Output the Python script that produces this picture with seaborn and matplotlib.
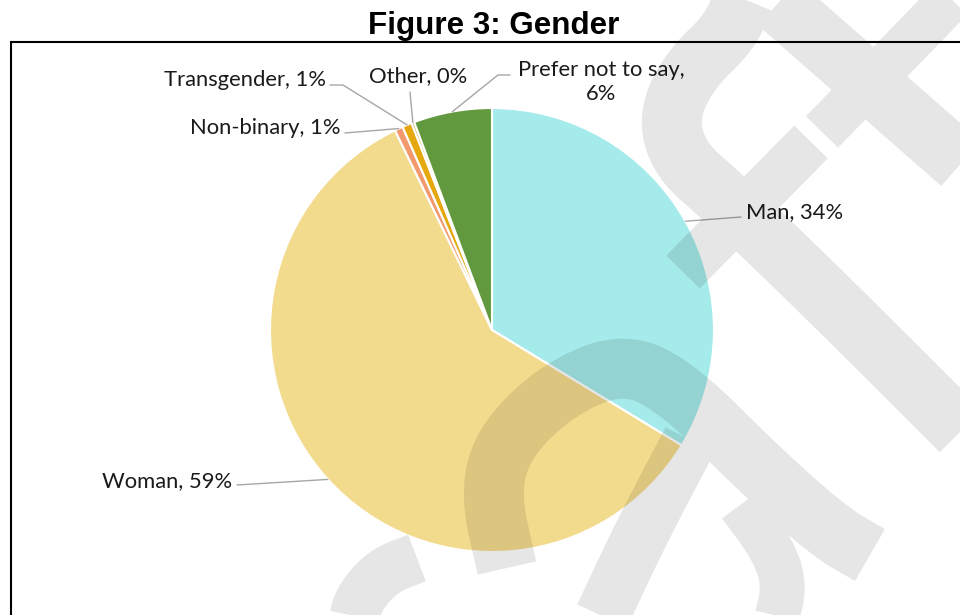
import numpy as np
import matplotlib
matplotlib.use("Agg")
import matplotlib.pyplot as plt
import seaborn as sns
from matplotlib.patches import Rectangle

# 데이터
categories = ['Man', 'Woman', 'Non-binary', 'Transgender', 'Other', 'Prefer not to say']
shares = [33.7, 59.1, 0.6, 0.7, 0.2, 5.7]
colors = ['#A6EBEB', '#F3DB8D', '#F29A6E', '#E5A90F', '#C9A227', '#62993E']
title = 'Figure 3: Gender'

sns.set_theme(style="white")
plt.rcParams['font.family'] = ['Lato', 'DejaVu Sans']

W, H = 960, 615
CX, CY, R = 492, 330, 222          # 픽셀 좌표 (y 아래 방향)


def P(x, y):
    # 픽셀(y 아래) -> 데이터(y 위)
    return x, H - y


def smooth(pts, n=3):
    # Chaikin 방식으로 꺾인 선을 부드럽게
    pts = np.asarray(pts, float)
    for _ in range(n):
        q = 0.75 * pts[:-1] + 0.25 * pts[1:]
        r = 0.25 * pts[:-1] + 0.75 * pts[1:]
        mid = np.empty((2 * len(q), 2))
        mid[0::2], mid[1::2] = q, r
        pts = np.vstack([pts[:1], mid, pts[-1:]])
    return pts


fig = plt.figure(figsize=(W / 100, H / 100), dpi=100)
ax = fig.add_axes([0, 0, 1, 1])

wedges, _ = ax.pie(shares, colors=colors, startangle=90, counterclock=False,
                   center=P(CX, CY), radius=R,
                   wedgeprops=dict(edgecolor='white', linewidth=1.5))

# 라벨 위치 (픽셀), 정렬, 꺾은 지시선 점
label_layout = {
    'Man':               dict(xy=(746, 212), ha='left',   path=[(741, 217)]),
    'Woman':             dict(xy=(232, 481), ha='right',  path=[(237, 485)]),
    'Non-binary':        dict(xy=(341, 128), ha='right',  path=[(345, 133)]),
    'Transgender':       dict(xy=(326, 80),  ha='right',  path=[(343, 85), (330, 85)]),
    'Other':             dict(xy=(418, 76),  ha='center', path=[(410, 92)]),
    'Prefer not to say': dict(xy=(601, 82),  ha='center', path=[(498, 75), (510, 75)]),
}

for w, name, val in zip(wedges, categories, shares):
    lay = label_layout[name]
    mid = np.deg2rad((w.theta1 + w.theta2) / 2)
    x0, y0 = w.center[0] + R * np.cos(mid), w.center[1] + R * np.sin(mid)
    pts = [(x0, y0)] + [P(*p) for p in lay['path']]
    ax.plot([p[0] for p in pts], [p[1] for p in pts], color='#A6A6A6', lw=1.0, zorder=3)
    if name == 'Prefer not to say':
        txt = f"{name},\n{round(val):.0f}%"
    else:
        txt = f"{name}, {round(val):.0f}%"
    ax.text(*P(*lay['xy']), txt, ha=lay['ha'], va='center', fontsize=15.8,
            color='#1A1A1A', linespacing=1.2, zorder=4)

# 차트 테두리
ax.add_patch(Rectangle(P(11, 640), 1000, 640 - 42, fill=False, edgecolor='black',
                       lw=1.5, zorder=2))

# 워터마크 (별도 캔버스에 그려서 마스크로 사용)
strokes = [
    ([(745, -5), (730, 32), (690, 70), (668, 116), (680, 160), (723, 197), (830, 300), (975, 445)], 60),
    ([(778, 3), (965, 167)], 60),
    ([(955, -5), (822, 132)], 45),
    ([(683, 272), (811, 142)], 47),
    ([(507, 568), (490, 493), (505, 440), (560, 388), (625, 362), (680, 390), (760, 470), (830, 532), (870, 555)], 60),
    ([(690, 440), (640, 535), (598, 625)], 55),
    ([(740, 505), (772, 548), (785, 585), (775, 625)], 45),
    ([(417, 558), (383, 571), (358, 600), (353, 625)], 50),
]
mfig = plt.figure(figsize=(W / 100, H / 100), dpi=100, facecolor='white')
max_ = mfig.add_axes([0, 0, 1, 1])
max_.set_xlim(0, W)
max_.set_ylim(H, 0)
max_.axis('off')
for pts, lw in strokes:
    sp = smooth(pts) if len(pts) > 2 else np.asarray(pts, float)
    max_.plot(sp[:, 0], sp[:, 1], color='black', lw=lw * 0.72, solid_capstyle='butt',
              solid_joinstyle='round')
mfig.canvas.draw()
mask = 1 - np.asarray(mfig.canvas.buffer_rgba())[:, :, 0] / 255.0
plt.close(mfig)
overlay = np.zeros((mask.shape[0], mask.shape[1], 4))
overlay[..., 3] = 0.1 * mask
ax.imshow(overlay, extent=(0, W, 0, H), origin='upper', zorder=5, interpolation='nearest')

ax.set_xlim(0, W)
ax.set_ylim(0, H)
ax.set_aspect('equal')
ax.axis('off')

fig.text(493.5 / W, 1 - 26 / H, title, ha='center', va='center', fontsize=22.6,
         fontweight='bold', family=['Liberation Sans', 'DejaVu Sans'], color='black')

fig.savefig('out.png', dpi=100, facecolor='white')
